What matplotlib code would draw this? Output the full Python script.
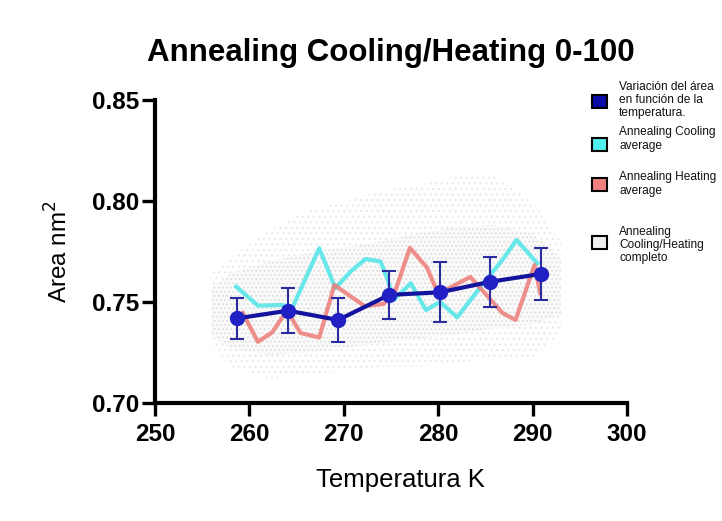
import matplotlib.pyplot as plt
from matplotlib.patches import Rectangle

# Mean area vs temperature (blue points with error bars)
temp_mean = [258.7, 264.1, 269.4, 274.8, 280.2, 285.5, 290.9]
area_mean = [0.7419, 0.7457, 0.7411, 0.7535, 0.7548, 0.7600, 0.7639]
area_err = [0.0103, 0.0112, 0.0110, 0.0118, 0.0148, 0.0124, 0.0128]

# Annealing cooling average (cyan)
temp_cool = [258.6, 260.9, 263.3, 264.6, 267.4, 269.1, 270.7, 272.3, 273.9, 274.6,
             275.3, 277.1, 278.7, 280.2, 282.0, 284.8, 286.8, 288.3, 290.5]
area_cool = [0.7576, 0.7482, 0.7485, 0.7477, 0.7766, 0.7568, 0.7650, 0.7713, 0.7700, 0.7617,
             0.7510, 0.7593, 0.7460, 0.7500, 0.7424, 0.7593, 0.7708, 0.7807, 0.7692]

# Annealing heating average (salmon)
temp_heat = [259.3, 260.9, 262.4, 264.0, 265.4, 267.4, 269.0, 272.2, 274.2, 275.4,
             277.0, 278.8, 280.0, 283.4, 285.3, 286.8, 288.2, 290.2, 290.8]
area_heat = [0.7446, 0.7303, 0.7349, 0.7458, 0.7347, 0.7324, 0.7584, 0.7480, 0.7490, 0.7547,
             0.7768, 0.7671, 0.7540, 0.7624, 0.7525, 0.7446, 0.7411, 0.7683, 0.7545]

# Envelope of the full cooling/heating point cloud (grey speckle)
cloud_t = [256.0, 258.0, 262.0, 266.0, 270.0, 274.0, 278.0, 282.0, 286.0, 290.0, 293.0]
cloud_hi = [0.765, 0.772, 0.785, 0.795, 0.800, 0.805, 0.808, 0.812, 0.812, 0.800, 0.780]
cloud_lo = [0.728, 0.718, 0.712, 0.714, 0.716, 0.718, 0.718, 0.720, 0.722, 0.722, 0.735]
core_hi = [0.757, 0.764, 0.770, 0.774, 0.777, 0.780, 0.784, 0.787, 0.788, 0.784, 0.772]
core_lo = [0.734, 0.727, 0.724, 0.725, 0.727, 0.730, 0.732, 0.734, 0.737, 0.739, 0.744]

legend_labels = ["Variación del área\nen función de la\ntemperatura.",
                 "Annealing Cooling\naverage",
                 "Annealing Heating\naverage",
                 "Annealing\nCooling/Heating\ncompleto"]
legend_colors = ["#0b0ba8", "#4ff0ee", "#f08080", "#eeeeee"]

plt.rcParams['font.family'] = ['Liberation Sans', 'DejaVu Sans']
plt.rcParams['hatch.linewidth'] = 0.8

fig = plt.figure(figsize=(7.22, 5.21), dpi=100)
ax = fig.add_axes([0.2147, 0.2265, 0.6537, 0.5816])

# point cloud as speckled bands
ax.fill_between(cloud_t, cloud_lo, cloud_hi, facecolor='white', edgecolor='#e8e8e8',
                hatch='...', linewidth=0, zorder=1)
ax.fill_between(cloud_t, core_lo, core_hi, facecolor='#fafafa', edgecolor='#dddddd',
                hatch='....', linewidth=0, zorder=1)

ax.plot(temp_cool, area_cool, color='#58e6e8', linewidth=3.0, alpha=0.9, zorder=3)
ax.plot(temp_heat, area_heat, color='#ec7c78', linewidth=3.0, alpha=0.85, zorder=3)
ax.errorbar(temp_mean, area_mean, yerr=area_err, color='#13139c', linewidth=3.0,
            marker='o', markersize=10, markerfacecolor='#2020c4', markeredgecolor='#2020c4',
            ecolor='#2b2ba0', elinewidth=1.5, capsize=5, capthick=1.5, zorder=4)

ax.set_xlim(250, 300)
ax.set_ylim(0.70, 0.85)
ax.set_xticks([250, 260, 270, 280, 290, 300])
ax.set_yticks([0.70, 0.75, 0.80, 0.85])
ax.set_yticklabels(["0.70", "0.75", "0.80", "0.85"])
for s in ['top', 'right']:
    ax.spines[s].set_visible(False)
for s in ['left', 'bottom']:
    ax.spines[s].set_linewidth(3.0)
ax.tick_params(axis='both', direction='out', length=9.5, width=2.4, labelsize=17.5)
ax.tick_params(axis='y', pad=2)
ax.tick_params(axis='x', pad=5)
for lab in ax.get_xticklabels() + ax.get_yticklabels():
    lab.set_fontweight('bold')

ax.set_title("Annealing Cooling/Heating 0-100", fontsize=22.5, fontweight='bold', pad=28)
ax.set_xlabel("Temperatura K", fontsize=18.5)
ax.xaxis.set_label_coords(0.52, -0.215)
ax.set_ylabel("Area nm$^2$", fontsize=17.5)
ax.yaxis.set_label_coords(-0.175, 0.5)

# legend drawn by hand at the right
box_y = [101, 144, 184, 242]
text_y = [100, 139, 184, 245]
for label, col, yb, yt in zip(legend_labels, legend_colors, box_y, text_y):
    fig.add_artist(Rectangle((592 / 722, 1 - (yb + 6.5) / 521), 15 / 722, 13 / 521,
                             facecolor=col, edgecolor='black', linewidth=1.5,
                             transform=fig.transFigure))
    fig.text(619 / 722, 1 - yt / 521, label, fontsize=8.6, va='center', ha='left',
             linespacing=1.15, color='#111111')

fig.savefig("out.png", dpi=100)
